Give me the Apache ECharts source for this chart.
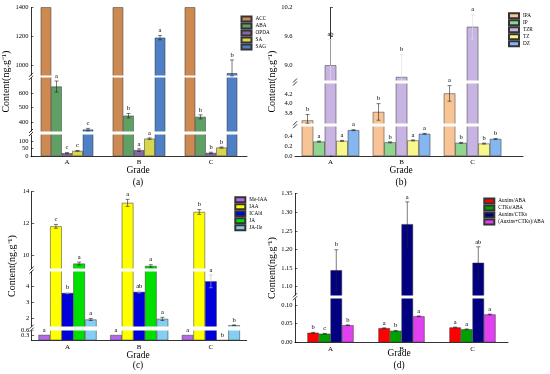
<!DOCTYPE html>
<html><head><meta charset="utf-8">
<script src="https://cdn.jsdelivr.net/npm/echarts@6/dist/echarts.min.js"></script>
<style>html,body{margin:0;padding:0;background:#fff}#c{width:550px;height:374px}</style>
</head><body><div id="c"></div>
<script>
const FONT = "'Liberation Serif','Times New Roman',serif";
const grades = ['A', 'B', 'C'];

// ---- panel (a)
const aNames = ['ACC', 'ABA', 'OPDA', 'SA', 'SAG'];
const aACC = [1400, 1400, 1400];
const aABA = [645, 445, 437];
const aOPDA = [19, 40, 21];
const aSA = [35, 119, 58];
const aSAG = [350, 1192, 948];
const aErr = [[0, 0, 0], [38, 15, 14], [5, 9, 5], [3, 5, 4], [8, 15, 91]];
const aLet = [['', '', ''], ['a', 'b', 'b'], ['c', 'a', 'b'], ['c', 'a', 'b'], ['c', 'a', 'b']];
const aTicks = [0, 50, 100, 400, 500, 600, 1000, 1200, 1400];
const aBreaks = [[152, 339], [706, 936]];

// ---- panel (b)
const bNames = ['IPA', 'IP', 'TZR', 'TZ', 'DZ'];
const bIPA = [3.656, 3.83, 4.21];
const bIP = [0.296, 0.28, 0.27];
const bTZR = [9.01, 8.77, 9.8];
const bTZ = [0.31, 0.32, 0.255];
const bDZ = [0.53, 0.455, 0.35];
const bErr = [[0.12, 0.17, 0.16], [0.01, 0.01, 0.01], [0.53, 0.46, 0.25], [0.01, 0.01, 0.01], [0.01, 0.01, 0.01]];
const bLet = [['b', 'b', 'a'], ['a', 'b', 'b'], ['ab', 'b', 'a'], ['a', 'a', 'b'], ['a', 'a', 'b']];
const bTicks = [0, 0.2, 0.4, 3.8, 4.0, 4.2, 9.0, 9.6, 10.2];
const bBreaks = [[0.607, 3.60], [4.41, 8.70]];

// ---- panel (c)
const cNames = ['Me-IAA', 'IAA', 'ICAld', 'JA', 'JA-Ile'];
const cMeIAA = [0.34, 0.33, 0.33];
const cIAA = [11.83, 13.3, 12.73];
const cICAld = [3.6, 3.67, 4.33];
const cJA = [9.5, 9.35, 0];
const cJAIle = [1.94, 1.98, 1.58];
const cErr = [[0, 0, 0], [0.12, 0.22, 0.15], [0.04, 0.06, 0.4], [0.1, 0.08, 0], [0.06, 0.1, 0.02]];
const cLet = [['a', 'a', 'a'], ['c', 'a', 'b'], ['b', 'ab', 'a'], ['a', 'a', 'b'], ['a', 'a', 'b']];
const cTicks = [0, 0.3, 0.6, 2, 3, 4, 10, 12, 14];
const cBreaks = [[0.66, 1.5], [4.94, 9.2]];

// ---- panel (d)
const dNames = ['Auxins/ABA', 'CTKs/ABA', 'Auxins/CTKs', '(Auxins+CTKs)/ABA'];
const dAuxABA = [0.0257, 0.038, 0.040];
const dCTKABA = [0.023, 0.031, 0.035];
const dAuxCTK = [1.144, 1.268, 1.164];
const dSumABA = [0.046, 0.070, 0.075];
const dErr = [[0.001, 0.001, 0.001], [0.001, 0.001, 0.001], [0.055, 0.06, 0.043], [0.001, 0.001, 0.001]];
const dLet = [['b', 'a', 'a'], ['c', 'b', 'a'], ['b', 'a', 'ab'], ['b', 'a', 'a']];
const dTicks = [0, 0.05, 0.10, 1.10, 1.15, 1.20, 1.25, 1.30, 1.35];
const dBreaks = [[0.119, 1.076]];

const panels = [
  { vals: [aACC, aABA, aOPDA, aSA, aSAG], names: aNames, err: aErr, lets: aLet, ticks: aTicks, breaks: aBreaks,
    colors: ['#cc8a52', '#5fa064', '#8467a5', '#d8d64c', '#4f80c6'], errColors: {},
    fmt: v => String(v), grid: { left: 31, top: 7.3, width: 216, height: 148.7 }, catGap: 0.27, gap: '1.8%',
    yMax: 1400, nameGap: 10.5, legend: { left: 240.5, top: 15.5 }, gx: 138, gy: 165, tag: '(a)', ty: 177 },
  { vals: [bIPA, bIP, bTZR, bTZ, bDZ], names: bNames, err: bErr, lets: bLet, ticks: bTicks, breaks: bBreaks,
    colors: ['#f9c495', '#8fd48f', '#c8b4e2', '#f7f78c', '#86b6f0'], errColors: { 2: '#e2dcea' },
    fmt: v => v.toFixed(1), grid: { left: 295, top: 7.3, width: 228, height: 148.7 }, catGap: 0.19, gap: '2.2%',
    yMax: 10.2, nameGap: 12.5, legend: { left: 508, top: 12.3 }, gx: 401, gy: 165, tag: '(b)', ty: 177, xValueMax: 2.71 },
  { vals: [cMeIAA, cIAA, cICAld, cJA, cJAIle], names: cNames, err: cErr, lets: cLet, ticks: cTicks, breaks: cBreaks,
    colors: ['#b569e8', '#ffff00', '#0000dc', '#00e000', '#86cdf2'], errColors: { 2: '#bbbbbb' },
    fmt: v => (v < 1 ? v.toFixed(1) : String(v)), grid: { left: 31.7, top: 191.7, width: 215, height: 148.6 }, catGap: 0.19, gap: '2.15%',
    yMax: 14, nameGap: 10.5, legend: { left: 234.3, top: 196.3 }, gx: 138, gy: 350, tag: '(c)', ty: 360 },
  { vals: [dAuxABA, dCTKABA, dAuxCTK, dSumABA], names: dNames, err: dErr, lets: dLet, ticks: dTicks, breaks: dBreaks,
    colors: ['#ff0000', '#00a000', '#000080', '#e040f0'], errColors: {},
    fmt: v => v.toFixed(2), grid: { left: 295, top: 193.7, width: 213, height: 148.6 }, catGap: 0.35, gap: '1.8%',
    yMax: 1.35, nameGap: 17.5, legend: { left: 483.3, top: 197.5 }, gx: 399, gy: 348.5, tag: '(d)', ty: 360 }
];

const option = { animation: false, textStyle: { fontFamily: FONT }, grid: [], xAxis: [], yAxis: [], series: [], legend: [], title: [] };
const axisLineStyle = { color: '#000', width: 0.8 };

panels.forEach((p, k) => {
  option.grid.push(Object.assign({}, p.grid));
  const xLabel = { fontSize: 7, fontFamily: FONT, color: '#000', margin: 3 };
  if (p.xValueMax) {
    option.xAxis.push({ gridIndex: k, type: 'value', min: -0.5, max: p.xValueMax, splitLine: { show: false },
      axisLine: { show: true, lineStyle: axisLineStyle }, axisTick: { show: false },
      axisLabel: Object.assign({ customValues: [0, 1, 2], formatter: v => grades[Math.round(v)] || '' }, xLabel) });
  } else {
    option.xAxis.push({ gridIndex: k, type: 'category', data: grades, axisLine: { show: true, lineStyle: axisLineStyle },
      axisTick: { show: false }, axisLabel: xLabel });
  }
  option.yAxis.push({
    gridIndex: k, type: 'value', min: 0, max: p.yMax,
    breaks: p.breaks.map(b => ({ start: b[0], end: b[1], gap: p.gap })),
    breakArea: { show: true, itemStyle: { color: '#fff', borderColor: '#fff', borderWidth: 0, opacity: 1 },
      zigzagAmplitude: 0, zigzagZ: 200, expandOnClick: false },
    axisLine: { show: true, lineStyle: axisLineStyle },
    axisTick: { show: true, inside: true, length: 2.5, customValues: p.ticks, lineStyle: { color: '#000', width: 0.6 } },
    axisLabel: { customValues: p.ticks, formatter: p.fmt, fontSize: 6.5, fontFamily: FONT, color: '#000', margin: 2.5 },
    splitLine: { show: false },
    name: 'Content(ng.g\u207B\u00B9)', nameLocation: 'middle', nameGap: p.nameGap,
    nameTextStyle: { fontSize: 10, fontFamily: FONT, color: '#000' }
  });
  p.vals.forEach((vals, s) => {
    option.series.push({
      type: 'bar', name: p.names[s], xAxisIndex: k, yAxisIndex: k,
      data: p.xValueMax ? vals.map((v, i) => [i, v]) : vals,
      barGap: '0%', barCategoryGap: (p.catGap * 100) + '%',
      itemStyle: { color: p.colors[s], borderColor: '#333', borderWidth: 0.5 },
      z: 2
    });
  });
  // error bars + significance letters
  const items = [], labels = [];
  p.vals.forEach((vals, s) => vals.forEach((v, c) => { items.push([c, v, p.err[s][c], s]); labels.push(p.lets[s][c]); }));
  const nBars = p.vals.length, gapR = p.catGap, errColors = p.errColors;
  option.series.push({
    type: 'custom', xAxisIndex: k, yAxisIndex: k, z: 300, silent: true, clip: false,
    data: items, encode: { x: 0, y: 1 },
    renderItem(params, api) {
      const c = api.value(0), v = api.value(1), e = api.value(2), s = api.value(3);
      const band = api.size([1, 0])[0];
      const gw = band * (1 - gapR), bw = gw / nBars;
      const x = api.coord([c, v])[0] - gw / 2 + bw * (s + 0.5);
      const yTop = api.coord([c, v + e])[1], yBot = api.coord([c, Math.max(v - e, 0)])[1];
      const col = errColors[s] || '#222';
      const ch = [];
      if (e > 0) {
        const cw = 2;
        ch.push({ type: 'line', shape: { x1: x, y1: yTop, x2: x, y2: yBot }, style: { stroke: col, lineWidth: 0.6 } });
        ch.push({ type: 'line', shape: { x1: x - cw, y1: yTop, x2: x + cw, y2: yTop }, style: { stroke: col, lineWidth: 0.6 } });
        ch.push({ type: 'line', shape: { x1: x - cw, y1: yBot, x2: x + cw, y2: yBot }, style: { stroke: col, lineWidth: 0.6 } });
      }
      const t = labels[params.dataIndex];
      if (t) ch.push({ type: 'text', style: { text: t, x: x, y: yTop - 1.5, align: 'center', verticalAlign: 'bottom',
        fontSize: 6.5, fontFamily: FONT, fill: '#000' } });
      return { type: 'group', children: ch };
    }
  });
  // break marks "//" on the y axis line
  option.series.push({
    type: 'custom', xAxisIndex: k, yAxisIndex: k, z: 310, silent: true, clip: false,
    data: p.breaks.map(b => [0, b[0], b[1]]), encode: { x: 0, y: [1, 2] },
    renderItem(params, api) {
      const x = params.coordSys.x;
      const y = (api.coord([0, api.value(1)])[1] + api.coord([0, api.value(2)])[1]) / 2;
      const st = { stroke: '#000', lineWidth: 0.8 };
      return { type: 'group', children: [
        { type: 'line', shape: { x1: x - 2, y1: y + 0.5, x2: x + 2, y2: y - 3.5 }, style: st },
        { type: 'line', shape: { x1: x - 2, y1: y + 3.5, x2: x + 2, y2: y - 0.5 }, style: st }
      ] };
    }
  });
  option.legend.push({
    orient: 'vertical', left: p.legend.left, top: p.legend.top, padding: 0, itemWidth: 10, itemHeight: 5, itemGap: 0,
    icon: 'rect', selectedMode: false, data: p.names,
    textStyle: { fontSize: 5.2, lineHeight: 7, fontFamily: FONT, color: '#000', padding: [0, 0, 0, -1] }
  });
  option.title.push({ text: 'Grade', left: p.gx, top: p.gy, textAlign: 'center', padding: 0,
    textStyle: { fontSize: 9.5, fontWeight: 'normal', fontFamily: FONT, color: '#000' } });
  option.title.push({ text: p.tag, left: p.gx, top: p.ty, textAlign: 'center', padding: 0,
    textStyle: { fontSize: 9.5, fontWeight: 'normal', fontFamily: FONT, color: '#000' } });
});

const chart = echarts.init(document.getElementById('c'), null, { renderer: 'canvas' });
chart.setOption(option);
</script></body></html>
